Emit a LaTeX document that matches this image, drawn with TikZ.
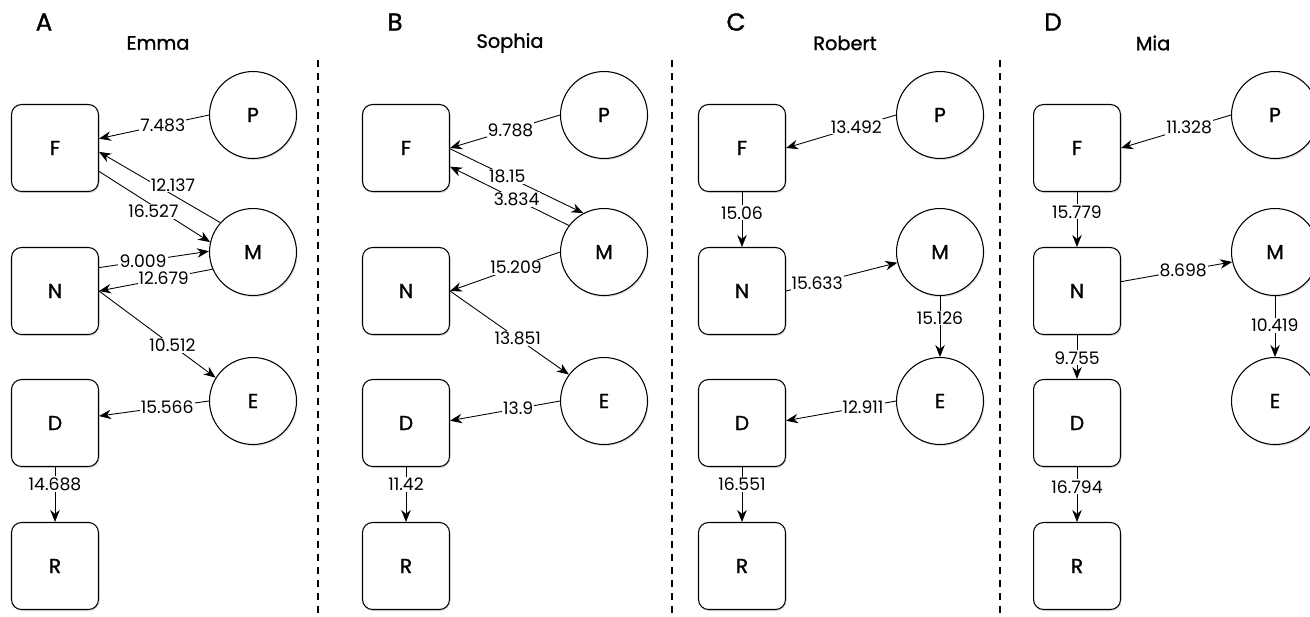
\documentclass[tikz,border=0pt]{standalone}
\usepackage{fontspec}
\setmainfont{Poppins}
\newfontfamily\headfont{Poppins}[FakeBold=1.2]
\usetikzlibrary{arrows.meta,shadows}

\begin{document}
\begin{tikzpicture}[x=0.02cm,y=-0.02cm,
  box/.style={draw,fill=white,rounded corners=0.2cm,minimum size=1.74cm,line width=0.6pt,
    font=\headfont\fontsize{11.5}{13}\selectfont,
    drop shadow={shadow xshift=0.6pt,shadow yshift=-0.9pt,opacity=0.25}},
  ball/.style={draw,fill=white,circle,minimum size=1.74cm,line width=0.6pt,
    font=\headfont\fontsize{11.5}{13}\selectfont,
    drop shadow={shadow xshift=0.6pt,shadow yshift=-0.9pt,opacity=0.25}},
  link/.style={line width=0.5pt,-{Stealth[length=2.4mm,width=1.9mm]}},
  val/.style={fill=white,inner sep=0.6pt,font=\fontsize{9.8}{11}\selectfont},
  tag/.style={font=\headfont\fontsize{14}{16}\selectfont},
  who/.style={font=\headfont\fontsize{11}{13}\selectfont},
  divider/.style={dash pattern=on 0.14cm off 0.12cm,line width=1.1pt}]
\useasboundingbox (0,0) rectangle (1310,616);

% panel titles and separators
\foreach \p/\tx/\wx/\name in {A/44/158/Emma,B/395/510/Sophia,C/736/845/Robert,D/1053/1153/Mia}{
  \node[tag] (tag\p) at (\tx,22) {\p};
  \node[who] (who\p) at (\wx,43) {\name};
}
\foreach \x in {318,672,1000}
  \draw[divider] (\x,60) -- (\x,616);

% nodes of each panel
\foreach \p/\x in {A/55,B/406,C/742,D/1077}{
  \node[box] (\p-F) at (\x,148) {F};
  \node[box] (\p-N) at (\x,291) {N};
  \node[box] (\p-D) at (\x,423) {D};
  \node[box] (\p-R) at (\x,566) {R};
  \node[ball] (\p-P) at (\x+198,115) {P};
  \node[ball] (\p-M) at (\x+198,252) {M};
  \node[ball] (\p-E) at (\x+198,401) {E};
}

% A: Emma
\draw[link] (A-P.180) -- node[val,pos=.42] {7.483} (A-F.12);
\draw[link] (A-M.138) -- node[val,pos=.39,yshift=0.2cm] {12.137} (A-F.-5);
\draw[link] (A-F.-28) -- node[val,pos=.49,yshift=-0.1cm] {16.527} (A-M.167);
\draw[link] (A-N.28) -- node[val,pos=.4] {9.009} (A-M.179);
\draw[link] (A-M.203) -- node[val,pos=.43] {12.679} (A-N.east);
\draw[link] (A-N.east) -- node[val,pos=.63] {10.512} (A-E.148);
\draw[link] (A-E.180) -- node[val,pos=.38] {15.566} (A-D.9);
\draw[link] (A-D.south) -- node[val,pos=.31] {14.688} (A-R.north);

% B: Sophia
\draw[link] (B-P.180) -- node[val,pos=.45] {9.788} (B-F.east);
\draw[link] (B-F.-1) -- node[val,pos=.43] {18.15} (B-M.118);
\draw[link] (B-M.143) -- node[val,pos=.44] {3.834} (B-F.-23);
\draw[link] (B-M.180) -- node[val,pos=.4] {15.209} (B-N.east);
\draw[link] (B-N.east) -- node[val,pos=.57] {13.851} (B-E.143);
\draw[link] (B-E.180) -- node[val,pos=.38] {13.9} (B-D.3);
\draw[link] (B-D.south) -- node[val,pos=.31] {11.42} (B-R.north);

% C: Robert
\draw[link] (C-P.180) -- node[val,pos=.36] {13.492} (C-F.east);
\draw[link] (C-F.south) -- node[val,pos=.38] {15.06} (C-N.north);
\draw[link] (C-N.east) -- node[val,pos=.28] {15.633} (C-M.194);
\draw[link] (C-M.south) -- node[val,pos=.36] {15.126} (C-E.north);
\draw[link] (C-E.180) -- node[val,pos=.3] {12.911} (C-D.3);
\draw[link] (C-D.south) -- node[val,pos=.31] {16.551} (C-R.north);

% D: Mia
\draw[link] (D-P.180) -- node[val,pos=.38] {11.328} (D-F.east);
\draw[link] (D-F.south) -- node[val,pos=.36] {15.779} (D-N.north);
\draw[link] (D-N.12) -- node[val,pos=.56] {8.698} (D-M.193);
\draw[link] (D-M.south) -- node[val,pos=.48] {10.419} (D-E.north);
\draw[link] (D-N.south) -- node[val,pos=.52] {9.755} (D-D.north);
\draw[link] (D-D.south) -- node[val,pos=.36] {16.794} (D-R.north);

\end{tikzpicture}
\end{document}
